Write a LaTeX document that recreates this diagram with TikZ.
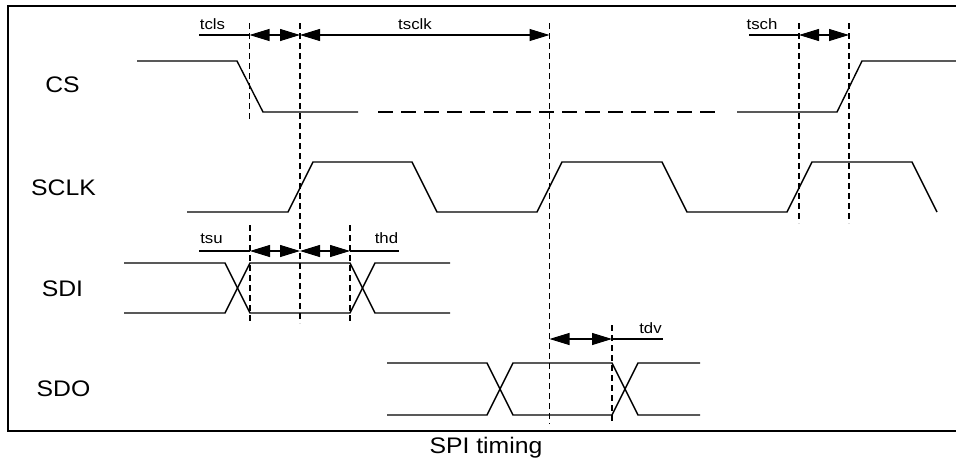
\documentclass[tikz,border=0pt]{standalone}
\usepackage{fontspec}
\setmainfont{Liberation Sans}
\usetikzlibrary{arrows.meta}
\begin{document}
\begin{tikzpicture}[x=1pt,y=-1pt,
  sig/.style={line width=1.4pt, line join=miter},
  guide/.style={line width=1.1pt, dash pattern=on 6pt off 4pt},
  busdash/.style={line width=1.4pt, dash pattern=on 15pt off 8pt},
  dim/.style={line width=1.1pt, {Triangle[length=20pt,width=12pt]}-{Triangle[length=20pt,width=12pt]}},
  ext/.style={line width=1.1pt},
  big/.style={font=\fontsize{22.5}{26}\selectfont, inner sep=0pt, xscale=1.1},
  small/.style={font=\fontsize{15}{17}\selectfont, inner sep=0pt, anchor=base, xscale=1.12}]
\useasboundingbox (0,0) rectangle (956,458);
% frame
\draw[line width=2pt] (956,6) -- (8,6) -- (8,431) -- (956,431);

% signal names
\node[big] (lcs) at (62.5,85) {CS};
\node[big] (lsclk) at (63.5,187.5) {SCLK};
\node[big] (lsdi) at (62.5,289) {SDI};
\node[big] (lsdo) at (63.5,389) {SDO};
\node[big, anchor=base] (cap) at (486,453) {SPI timing};

% CS
\draw[sig] (137,61) -- (237,61) -- (263,112) -- (358,112);
\draw[busdash] (378,112) -- (718,112);
\draw[sig] (737,112) -- (837,112) -- (862,61) -- (956,61);

% SCLK
\draw[sig] (187,212) -- (288,212) -- (313,162) -- (412,162) -- (437,212) -- (537,212)
  -- (562,162) -- (662,162) -- (687,212) -- (787,212) -- (812,162) -- (912,162) -- (937,212);

% SDI
\draw[sig] (124,263) -- (225,263) -- (250,313) -- (350,313) -- (375,263) -- (450,263);
\draw[sig] (124,313) -- (225,313) -- (250,263) -- (350,263) -- (375,313) -- (450,313);

% SDO
\draw[sig] (387,363) -- (487,363) -- (513,415) -- (612,415) -- (638,363) -- (700,363);
\draw[sig] (387,415) -- (487,415) -- (513,363) -- (612,363) -- (638,415) -- (700,415);

% guide lines
\coordinate (g1t) at (249.5,23);  \coordinate (g1b) at (249.5,120);
\coordinate (g2t) at (300,23);    \coordinate (g2b) at (300,323);
\coordinate (g3t) at (549.5,23);  \coordinate (g3b) at (549.5,424);
\coordinate (g4t) at (799,23);    \coordinate (g4b) at (799,223);
\coordinate (g5t) at (849,23);    \coordinate (g5b) at (849,223);
\coordinate (g6t) at (250,225);   \coordinate (g6b) at (250,323);
\coordinate (g7t) at (350,225);   \coordinate (g7b) at (350,323);
\coordinate (g8t) at (612,325);   \coordinate (g8b) at (612,424);
\foreach \g in {1,...,8} \draw[guide] (g\g t) -- (g\g b);

% dimension arrows
\coordinate (a1) at (249.5,35); \coordinate (a2) at (300,35); \coordinate (a3) at (549.5,35);
\coordinate (a4) at (799,35); \coordinate (a5) at (849,35);
\coordinate (e1) at (199,35); \coordinate (e2) at (749,35);
\draw[ext] (e1) -- (a1);
\draw[dim] (a1) -- (a2);
\draw[dim] (a2) -- (a3);
\draw[ext] (e2) -- (a4);
\draw[dim] (a4) -- (a5);

\coordinate (b1) at (250,251); \coordinate (b2) at (300,251); \coordinate (b3) at (350,251);
\coordinate (f1) at (199,251); \coordinate (f2) at (399,251);
\draw[ext] (f1) -- (b1);
\draw[dim] (b1) -- (b2);
\draw[dim] (b2) -- (b3);
\draw[ext] (b3) -- (f2);

\coordinate (c1) at (549.5,339); \coordinate (c2) at (612,339); \coordinate (h1) at (663,339);
\draw[dim] (c1) -- (c2);
\draw[ext] (c2) -- (h1);

% timing labels
\node[small] (tcls) at (212.5,29) {tcls};
\node[small] (tsclk) at (415,29) {tsclk};
\node[small] (tsch) at (762,29) {tsch};
\node[small] (tsu) at (211.5,243) {tsu};
\node[small] (thd) at (386.5,243) {thd};
\node[small] (tdv) at (650.5,333) {tdv};
\end{tikzpicture}
\end{document}
